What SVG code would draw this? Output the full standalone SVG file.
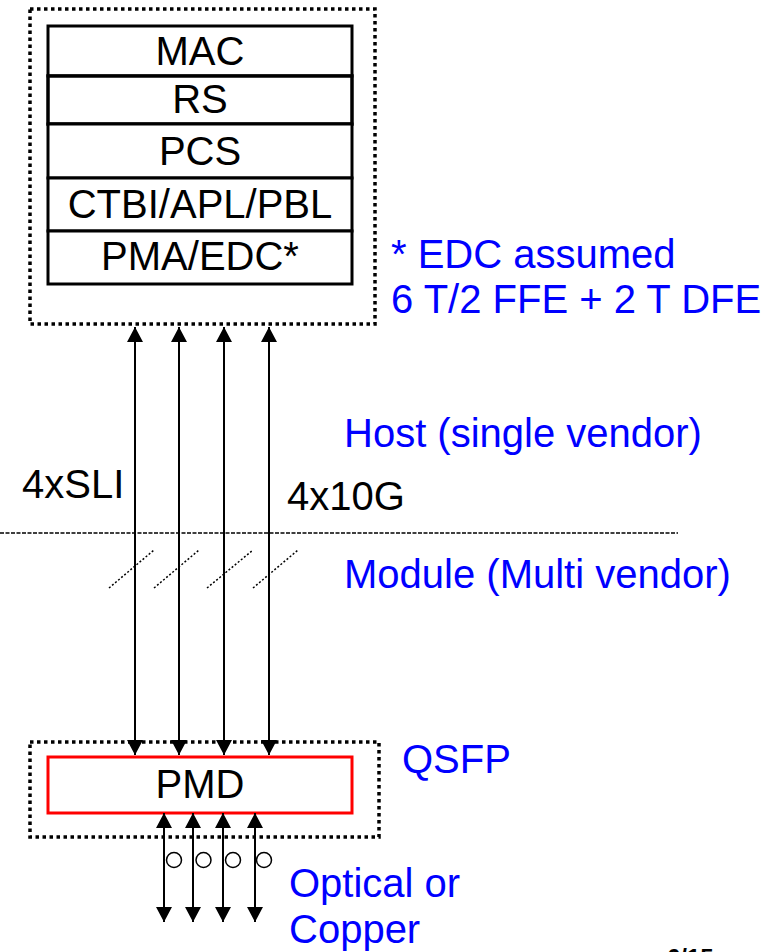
<svg xmlns="http://www.w3.org/2000/svg" width="773" height="952" viewBox="0 0 773 952">
<style>
  text { font-family: "Liberation Sans", Arial, sans-serif; font-size: 40px; }
  .blk { fill: #000; }
  .blue { fill: #0000FF; }
  .mid { text-anchor: middle; }
  .dotbox { fill: none; stroke: #000; stroke-width: 3.5; stroke-dasharray: 3.5 3.5; }
  .layer { fill: #fff; stroke: #000; stroke-width: 3; }
  .conn { stroke: #000; stroke-width: 2; fill: none; }
  .slash { stroke: #000; stroke-width: 1.5; stroke-dasharray: 2 2; fill: none; }
</style>
<defs>
  <marker id="ah" viewBox="0 0 15 16" refX="15" refY="8" markerWidth="15" markerHeight="16" markerUnits="userSpaceOnUse" orient="auto-start-reverse">
    <path d="M0,0 L15,8 L0,16 z" fill="#000"/>
  </marker>
</defs>
<rect width="773" height="952" fill="#fff"/>

<g id="host-box">
  <rect class="dotbox" x="30" y="9" width="345" height="315"/>
</g>
<g id="mac">
  <rect class="layer" x="48" y="26" width="304" height="50"/>
  <text class="blk mid" x="200" y="65">MAC</text>
</g>
<g id="rs">
  <rect class="layer" x="48" y="76" width="304" height="48" style="stroke-width:3.5"/>
  <text class="blk mid" x="200" y="113">RS</text>
</g>
<g id="pcs">
  <rect class="layer" x="48" y="124" width="304" height="54"/>
  <text class="blk mid" x="200" y="165">PCS</text>
</g>
<g id="ctbi">
  <rect class="layer" x="48" y="178" width="304" height="53"/>
  <text class="blk mid" x="200" y="218">CTBI/APL/PBL</text>
</g>
<g id="pma">
  <rect class="layer" x="48" y="231" width="304" height="53"/>
  <text class="blk mid" x="200" y="270">PMA/EDC*</text>
</g>

<g id="qsfp-box">
  <rect class="dotbox" x="30" y="742" width="349" height="95"/>
</g>
<g id="pmd">
  <rect x="48" y="757" width="304" height="56" fill="#fff" stroke="#FF0000" stroke-width="3"/>
  <text class="blk mid" x="200" y="798">PMD</text>
</g>

<g id="connectors">
  <line class="conn" x1="135" y1="327" x2="135" y2="755" marker-start="url(#ah)" marker-end="url(#ah)"/>
  <line class="conn" x1="179" y1="327" x2="179" y2="755" marker-start="url(#ah)" marker-end="url(#ah)"/>
  <line class="conn" x1="224" y1="327" x2="224" y2="755" marker-start="url(#ah)" marker-end="url(#ah)"/>
  <line class="conn" x1="269" y1="327" x2="269" y2="755" marker-start="url(#ah)" marker-end="url(#ah)"/>

  <line class="conn" x1="164" y1="813" x2="164" y2="922" marker-start="url(#ah)" marker-end="url(#ah)"/>
  <line class="conn" x1="193" y1="813" x2="193" y2="922" marker-start="url(#ah)" marker-end="url(#ah)"/>
  <line class="conn" x1="223" y1="813" x2="223" y2="922" marker-start="url(#ah)" marker-end="url(#ah)"/>
  <line class="conn" x1="255" y1="813" x2="255" y2="922" marker-start="url(#ah)" marker-end="url(#ah)"/>
</g>

<g id="circles" fill="none" stroke="#000" stroke-width="1.5">
  <circle cx="174" cy="860" r="7.5"/>
  <circle cx="203.5" cy="860" r="7.5"/>
  <circle cx="233" cy="860" r="7.5"/>
  <circle cx="264" cy="860" r="7.5"/>
</g>

<g id="boundary">
  <line x1="0" y1="533" x2="678" y2="533" stroke="#000" stroke-width="1.5" stroke-dasharray="4 1.5"/>
  <line class="slash" x1="109" y1="588" x2="154" y2="550"/>
  <line class="slash" x1="154" y1="588" x2="199" y2="550"/>
  <line class="slash" x1="207" y1="588" x2="253" y2="550"/>
  <line class="slash" x1="253" y1="588" x2="298" y2="550"/>
</g>

<g id="labels">
  <text class="blue" x="391" y="268">* EDC assumed</text>
  <text class="blue" x="391" y="313">6 T/2 FFE + 2 T DFE</text>
  <text class="blue" x="344" y="447">Host (single vendor)</text>
  <text class="blk" x="22" y="498">4xSLI</text>
  <text class="blk" x="287" y="510">4x10G</text>
  <text class="blue" x="344" y="588">Module (Multi vendor)</text>
  <text class="blue" x="402" y="773">QSFP</text>
  <text class="blue" x="289" y="897">Optical or</text>
  <text class="blue" x="289" y="943">Copper</text>
  <text class="blk" x="667" y="966" style="font-size:24px;font-weight:bold">6/15</text>
</g>
</svg>
